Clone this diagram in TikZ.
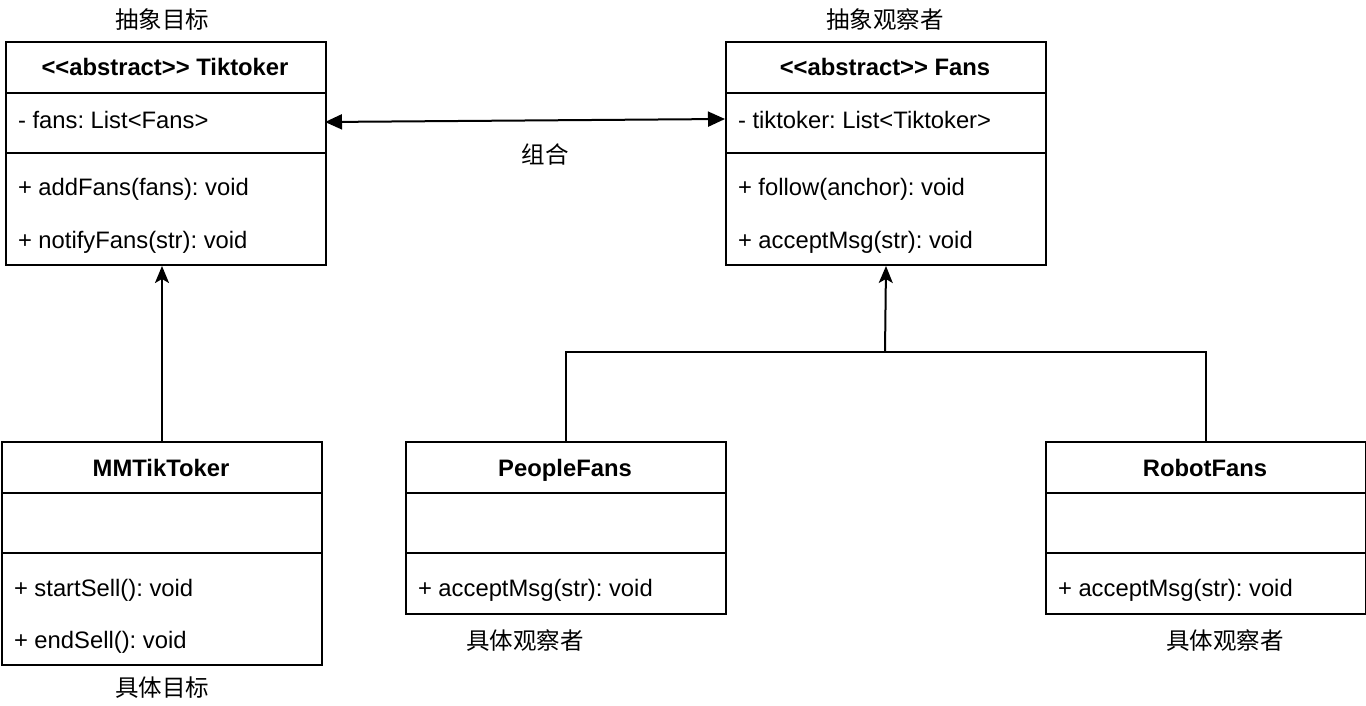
\documentclass[tikz,border=0pt]{standalone}
\usepackage{fontspec}
\setmainfont{Liberation Sans}
\newfontfamily\cjk{Noto Sans CJK SC}
\usetikzlibrary{arrows.meta,calc}
\frenchspacing
\begin{document}
\begin{tikzpicture}[x=1pt,y=-1pt,line width=2pt,
  cls/.style={draw, rectangle, minimum width=320pt, inner sep=0pt, anchor=north west},
  ttl/.style={font=\fontsize{23.8}{27}\selectfont\bfseries\frenchspacing, inner sep=0pt, anchor=base},
  row/.style={font=\fontsize{23.8}{27}\selectfont\frenchspacing, anchor=base west, inner sep=0pt},
  lbl/.style={font=\fontsize{23.5}{27}\selectfont\cjk, inner sep=0pt},
  inh/.style={-{Stealth[length=17pt,width=14pt,inset=4pt]}},
  assoc/.style={{Triangle[length=17pt,width=15pt]}-{Triangle[length=17pt,width=15pt]}}]
\useasboundingbox (0,0) rectangle (1366,706);

% Tiktoker
\node[cls, minimum height=223pt] (tik) at (5,41) {};
\draw (5,93) -- (325,93);
\draw (5,153) -- (325,153);
\node[ttl] (tikT) at (165,76) {{<}{<}abstract{>}{>} Tiktoker};
\node[row] (tikA) at (17,128.5) {- fans: List{<}Fans{>}};
\node[row] (tikM1) at (17,195) {+ addFans(fans): void};
\node[row] (tikM2) at (17,248) {+ notifyFans(str): void};
\node[lbl] (tikL) at (162,20) {抽象目标};

% Fans
\node[cls, minimum height=223pt] (fans) at (725,41) {};
\draw (725,93) -- (1045,93);
\draw (725,153) -- (1045,153);
\node[ttl] (fansT) at (885,76) {{<}{<}abstract{>}{>} Fans};
\node[row] (fansA) at (737,128.5) {- tiktoker: List{<}Tiktoker{>}};
\node[row] (fansM1) at (737,195) {+ follow(anchor): void};
\node[row] (fansM2) at (737,248) {+ acceptMsg(str): void};
\node[lbl] (fansL) at (885,20) {抽象观察者};

% MMTikToker
\node[cls, minimum height=223pt] (mm) at (1,441) {};
\draw (1,493) -- (321,493);
\draw (1,553) -- (321,553);
\node[ttl] (mmT) at (161,476) {MMTikToker};
\node[row] (mmM1) at (13,596) {+ startSell(): void};
\node[row] (mmM2) at (13,648) {+ endSell(): void};
\node[lbl] (mmL) at (162,688) {具体目标};

% PeopleFans
\node[cls, minimum height=172pt] (pf) at (405,441) {};
\draw (405,493) -- (725,493);
\draw (405,553) -- (725,553);
\node[ttl] (pfT) at (565,476) {PeopleFans};
\node[row] (pfM1) at (417,596) {+ acceptMsg(str): void};
\node[lbl] (pfL) at (525,641) {具体观察者};

% RobotFans
\node[cls, minimum height=172pt] (rf) at (1045,441) {};
\draw (1045,493) -- (1365,493);
\draw (1045,553) -- (1365,553);
\node[ttl] (rfT) at (1205,476) {RobotFans};
\node[row] (rfM1) at (1057,596) {+ acceptMsg(str): void};
\node[lbl] (rfL) at (1225,641) {具体观察者};

% connectors
\coordinate (a1) at (325,122);
\coordinate (a2) at (725,119);
\draw[assoc] (a1) -- (a2);
\node[lbl] (assocL) at (545,155) {组合};

\draw[inh] (mm.north) -- (mm.north |- tik.south);

\coordinate (j) at (885,352);
\draw (pf.north) |- (j);
\draw (rf.north) |- (j);
\draw[inh] (j) -- (fans.south);
\end{tikzpicture}
\end{document}
